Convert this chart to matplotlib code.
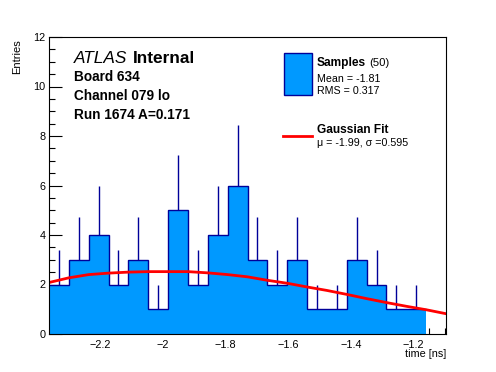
import numpy as np
import matplotlib
matplotlib.use('Agg')
import matplotlib.pyplot as plt
from matplotlib.ticker import MultipleLocator, FuncFormatter

plt.rcParams['font.family'] = ['Liberation Sans', 'DejaVu Sans']

# histogram of the sampled times (20 bins over the axis range)
XMIN, XMAX = -2.362, -1.097
counts = [2, 3, 4, 2, 3, 1, 5, 2, 4, 6, 3, 2, 3, 1, 1, 3, 2, 1, 1, 0]
errors = [1.41, 1.73, 2.0, 1.41, 1.73, 1.0, 2.24, 1.41, 2.0, 2.45,
          1.73, 1.41, 1.73, 1.0, 1.0, 1.73, 1.41, 1.0, 1.0, 0.0]

# gaussian fit curve, read at the bin edges
fit_y = [2.08, 2.27, 2.40, 2.46, 2.50, 2.52, 2.52, 2.52, 2.47, 2.40, 2.31,
         2.17, 2.05, 1.90, 1.76, 1.60, 1.43, 1.27, 1.12, 0.98, 0.82]

edges = np.linspace(XMIN, XMAX, len(counts) + 1)
centers = 0.5 * (edges[:-1] + edges[1:])
counts = np.array(counts, dtype=float)
errors = np.array(errors)

FILL = '#0099ff'
LINE = '#000099'

W, H = 496, 372
fig = plt.figure(figsize=(W / 100, H / 100), dpi=100)
ax = fig.add_axes([49 / W, 1 - 334 / H, (446 - 49) / W, (334 - 37) / H])

nz = counts > 0
ax.vlines(centers[nz], counts[nz], counts[nz] + errors[nz], color=LINE, lw=1.0, zorder=2)
ax.stairs(counts, edges, fill=True, color=FILL, zorder=3)
ax.stairs(counts[:19], edges[:20], color=LINE, lw=1.0, baseline=None, zorder=4)
ax.plot(edges, fit_y, color='red', lw=2.0, zorder=5)

ax.set_xlim(XMIN, XMAX)
ax.set_ylim(0, 12)
ax.xaxis.set_major_locator(MultipleLocator(0.2))
ax.xaxis.set_minor_locator(MultipleLocator(0.05))
ax.yaxis.set_major_locator(MultipleLocator(2))
ax.yaxis.set_minor_locator(MultipleLocator(0.5))
fmt = FuncFormatter(lambda v, p: ('%g' % round(v, 3)).replace('-', '\u2212'))
ax.xaxis.set_major_formatter(fmt)
ax.yaxis.set_major_formatter(fmt)
ax.tick_params(which='both', direction='in', top=False, right=False, width=0.8, labelsize=7.8)
ax.tick_params(which='major', length=9)
ax.tick_params(which='minor', length=4.5)
ax.tick_params(axis='x', pad=4.0)
ax.tick_params(axis='y', pad=2.5)
for sp in ax.spines.values():
    sp.set_linewidth(0.8)
    sp.set_zorder(6)

def px(x, y):
    return x / W, 1 - y / H

fig.text(*px(17, 39), 'Entries', rotation=90, ha='center', va='top', fontsize=8)
fig.text(*px(446, 357), 'time [ns]', ha='right', va='baseline', fontsize=7.8)

fig.text(*px(74, 63), 'ATLAS', style='italic', fontsize=12.4, va='baseline')
fig.text(*px(133, 63), 'Internal', weight='bold', fontsize=12.4, va='baseline')
fig.text(*px(74, 81), 'Board 634', weight='bold', fontsize=9.8, va='baseline')
fig.text(*px(74, 100), 'Channel 079 lo', weight='bold', fontsize=9.8, va='baseline')
fig.text(*px(74, 119), 'Run 1674 A=0.171', weight='bold', fontsize=9.8, va='baseline')

# legend, drawn by hand in the ROOT layout
fig.patches.append(plt.Rectangle(px(283.5, 95), 28 / W, 41.5 / H, transform=fig.transFigure,
                                 facecolor=FILL, edgecolor=LINE, lw=1.0))
fig.text(*px(317, 66), 'Samples', weight='bold', fontsize=8.6, va='baseline')
fig.text(*px(369.5, 66), '(50)', fontsize=8.1, va='baseline')
fig.text(*px(317, 82), 'Mean = -1.81', fontsize=7.7, va='baseline')
fig.text(*px(317, 94), 'RMS = 0.317', fontsize=7.7, va='baseline')
fig.lines.append(plt.Line2D([283 / W, 312 / W], [1 - 136 / H] * 2, transform=fig.transFigure,
                            color='red', lw=2.0))
fig.text(*px(317, 133), 'Gaussian Fit', weight='bold', fontsize=8.6, va='baseline')
fig.text(*px(317, 146), '\u03bc = -1.99, \u03c3 =0.595', fontsize=7.7, va='baseline')

fig.savefig('out.png', dpi=100)
